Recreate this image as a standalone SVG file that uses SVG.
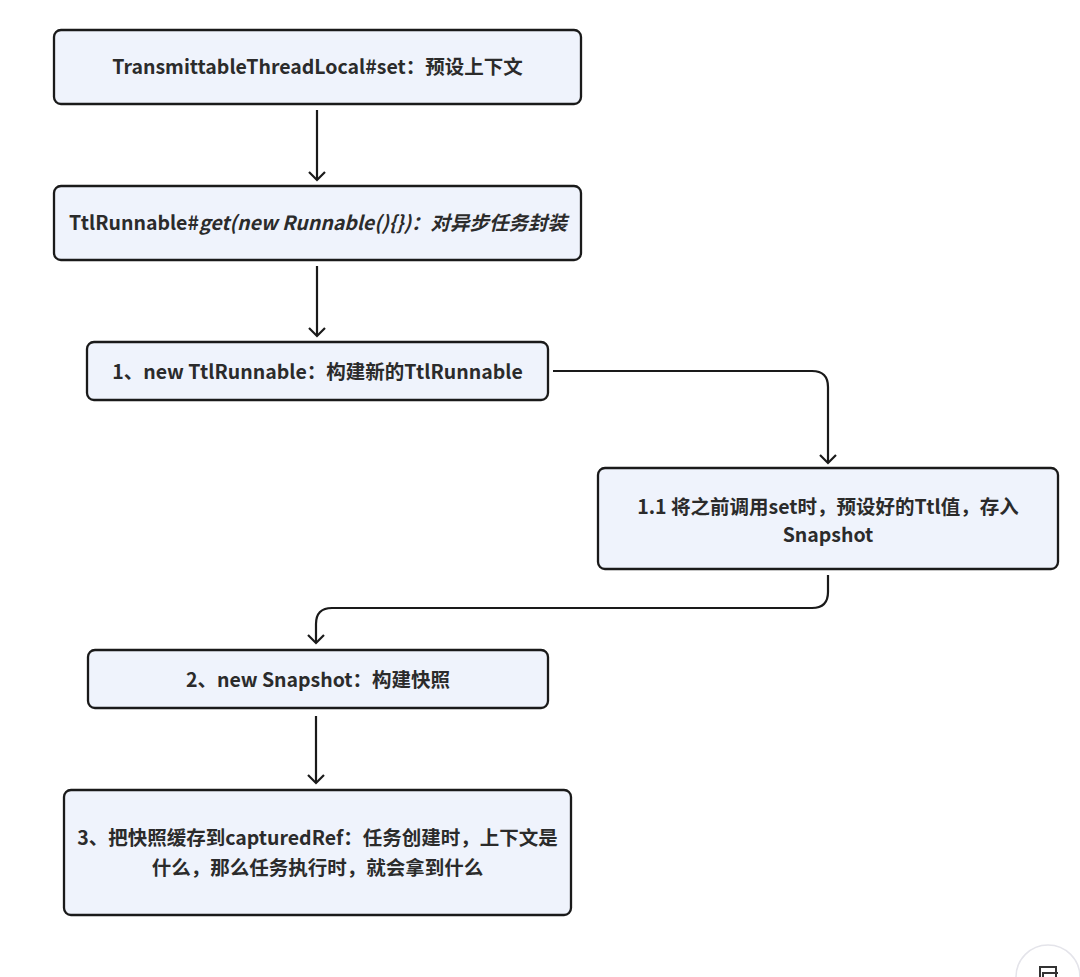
<svg xmlns="http://www.w3.org/2000/svg" width="1080" height="977" viewBox="0 0 1080 977">
<style>
.box{fill:#eff3fc;stroke:#1a1a1a;stroke-width:2.3}
.t{font-family:"Noto Sans CJK SC","Noto Sans",sans-serif;font-weight:bold;font-size:19.5px;fill:#2b2b2b;text-anchor:middle}
.c{fill:none;stroke:#1a1a1a;stroke-width:2.2}
</style>
<defs>
<marker id="arr" viewBox="0 0 20 20" refX="10" refY="10" markerWidth="20" markerHeight="20" markerUnits="userSpaceOnUse" orient="auto">
<path d="M2,2 L10,10 L2,18" fill="none" stroke="#1a1a1a" stroke-width="2.2"/>
</marker>
</defs>
<rect width="1080" height="977" fill="#ffffff"/>
<g id="connectors">
<path class="c" d="M317,110 V180" marker-end="url(#arr)"/>
<path class="c" d="M317,266 V336" marker-end="url(#arr)"/>
<path class="c" d="M553,371 H812 Q828,371 828,387 V463" marker-end="url(#arr)"/>
<path class="c" d="M828,575 V592 Q828,608 812,608 H332 Q316,608 316,624 V643" marker-end="url(#arr)"/>
<path class="c" d="M316,716 V783" marker-end="url(#arr)"/>
</g>
<g id="n1">
<rect class="box" x="54" y="30" width="527" height="74" rx="7"/>
<text class="t" x="317.5" y="74">TransmittableThreadLocal#set：预设上下文</text>
</g>
<g id="n2">
<rect class="box" x="54" y="186" width="527" height="74" rx="7"/>
<text class="t" x="318" y="230">TtlRunnable#<tspan font-style="italic">get(new Runnable(){})：对异步任务封装</tspan></text>
</g>
<g id="n3">
<rect class="box" x="87" y="342" width="461" height="58" rx="7"/>
<text class="t" x="317.5" y="379">1、new TtlRunnable：构建新的TtlRunnable</text>
</g>
<g id="n4">
<rect class="box" x="598" y="468" width="460" height="101" rx="7"/>
<text class="t" x="828" y="514">1.1 将之前调用set时，预设好的Ttl值，存入</text>
<text class="t" x="828" y="542">Snapshot</text>
</g>
<g id="n5">
<rect class="box" x="88" y="650" width="460" height="58" rx="7"/>
<text class="t" x="318" y="687">2、new Snapshot：构建快照</text>
</g>
<g id="n6">
<rect class="box" x="64" y="790" width="507" height="125" rx="7"/>
<text class="t" x="317.5" y="845">3、把快照缓存到capturedRef：任务创建时，上下文是</text>
<text class="t" x="317.5" y="875">什么，那么任务执行时，就会拿到什么</text>
</g>
<g id="ui">
<circle cx="1048" cy="977" r="32" fill="#ffffff" stroke="#e4e4ea" stroke-width="1.5"/>
<path d="M1040,977 V967 H1056 V977 M1043,977 V973 H1058" fill="none" stroke="#333" stroke-width="2"/>
</g>
</svg>
